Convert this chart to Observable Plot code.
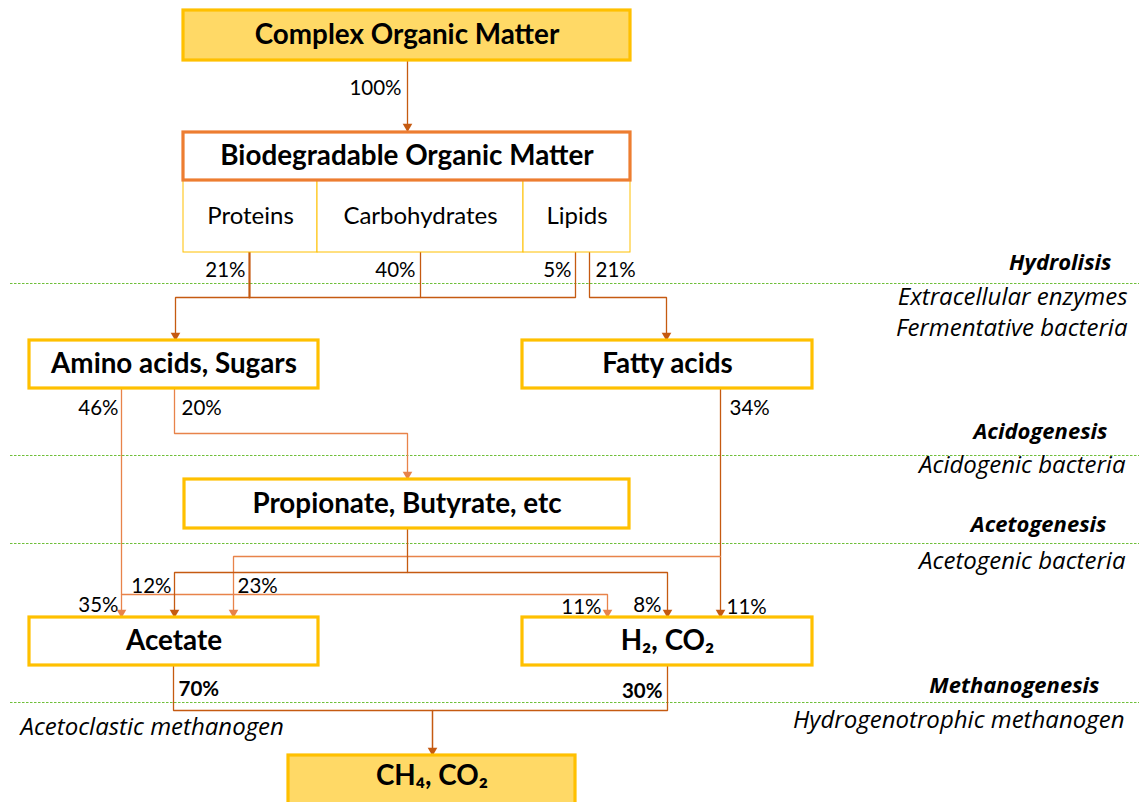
<!DOCTYPE html>
<html><head><meta charset="utf-8">
<script src="https://cdn.jsdelivr.net/npm/d3@7"></script>
<script src="https://cdn.jsdelivr.net/npm/@observablehq/plot@0.6"></script>
<style>html,body{margin:0;padding:0;background:#fff;overflow:hidden}</style>
</head><body><div id="chart"></div>
<script>
// ---------- content ----------
const nodeNames = ["Complex Organic Matter", "Biodegradable Organic Matter", "Amino acids, Sugars", "Fatty acids",
  "Propionate, Butyrate, etc", "Acetate", "H₂, CO₂", "CH₄, CO₂"];
const fractionNames = ["Proteins", "Carbohydrates", "Lipids"];
const flowLabels = ["100%", "21%", "40%", "5%", "21%", "46%", "20%", "34%", "12%", "23%", "35%", "11%", "8%", "11%", "70%", "30%"];
const stageNames = ["Hydrolisis", "Acidogenesis", "Acetogenesis", "Methanogenesis"];
const organismNames = ["Extracellular enzymes", "Fermentative bacteria", "Acidogenic bacteria", "Acetogenic bacteria",
  "Hydrogenotrophic methanogen", "Acetoclastic methanogen"];

// ---------- layout (diagram coordinates) ----------
const W = 1139, H = 802;
const nodeBox = [[183,10,630,60],[183,132,630,180],[29,340,318,388],[522,340,812,388],
  [184,479,629,528],[29,617,318,665],[522,617,812,665],[288,755,575,806]];
const nodeStyle = ["gold","orange","plain","plain","plain","plain","plain","gold"];
const fractionBox = [[183,180,317,252],[317,180,523,252],[523,180,630,252]];
const flowLabelPos = [[401,88,"end"],[245,270,"end"],[415,270,"end"],[571,270,"end"],[595,270,"start"],
  [118,408,"end"],[181,408,"start"],[729,408,"start"],[171,586,"end"],[237,586,"start"],[118,605,"end"],
  [601,607,"end"],[661,605,"end"],[726,607,"start"],[178,689,"start"],[662,691,"end"]];
const flowBold = [false,false,false,false,false,false,false,false,false,false,false,false,false,false,true,true];
const stageX = [1111, 1107, 1106, 1099];
const stageY = [262, 431, 524, 685];
const stageLineY = [283, 455, 543, 702];
const organismPos = [[1127,297,"end"],[1127,328,"end"],[1125,465,"end"],[1125,561,"end"],[1124,720,"end"],[20,727,"start"]];
const edgePaths = [
  [[407,60],[407,131]],
  [[249,252],[249,297]],
  [[420,252],[420,297]],
  [[575,252],[575,297],[175,297],[175,340]],
  [[589,252],[589,297],[666,297],[666,340]],
  [[121,388],[121,617]],
  [[174,388],[174,433],[407,433],[407,479]],
  [[121,594],[607,594],[607,617]],
  [[720,388],[720,617]],
  [[720,556],[233,556],[233,617]],
  [[407,528],[407,572],[174,572],[174,617]],
  [[407,572],[667,572],[667,617]],
  [[173,665],[173,710],[667,710],[667,665]],
  [[432,710],[432,755]]
];
const edgeArrow = [true,false,false,true,true,true,true,true,true,true,true,true,false,true];
const edgeTone = ["dark","dark","dark","dark","dark","light","light","light","dark","light","dark","dark","dark","dark"];
const edgeWidth = [1.3,2.2,1.3,1.3,1.3,1.3,1.3,1.3,1.3,1.3,1.3,1.3,1.3,1.5];

// ---------- styles ----------
const tone = {dark: "#C55A11", light: "#E8834A"};
const boxStroke = {gold: "#FFC000", orange: "#ED7D31", plain: "#FFC000"};
const boxFill = {gold: "#FFD966", orange: "#FFFFFF", plain: "#FFFFFF"};
const FONT = "Lato, 'Open Sans', sans-serif";
const IFONT = "'Open Sans', Lato, sans-serif";

// ---------- tables ----------
const nodes = nodeNames.map((name, i) => ({name, x1: nodeBox[i][0], y1: nodeBox[i][1], x2: nodeBox[i][2], y2: nodeBox[i][3],
  stroke: boxStroke[nodeStyle[i]], fill: boxFill[nodeStyle[i]], cx: (nodeBox[i][0]+nodeBox[i][2])/2,
  cy: (nodeBox[i][1]+Math.min(nodeBox[i][3], i === 7 ? 803 : nodeBox[i][3]))/2 + (i === 7 ? -3 : 0)}));
const fractions = fractionNames.map((name, i) => ({name, x1: fractionBox[i][0], y1: fractionBox[i][1], x2: fractionBox[i][2], y2: fractionBox[i][3],
  cx: (fractionBox[i][0]+fractionBox[i][2])/2, cy: (fractionBox[i][1]+fractionBox[i][3])/2}));
const flows = flowLabels.map((label, i) => ({label, x: flowLabelPos[i][0], y: flowLabelPos[i][1], anchor: flowLabelPos[i][2], bold: flowBold[i]}));
const stages = stageNames.map((name, i) => ({name, x: stageX[i], y: stageY[i], lineY: stageLineY[i]}));
const organisms = organismNames.map((name, i) => ({name, x: organismPos[i][0], y: organismPos[i][1], anchor: organismPos[i][2]}));
const edgeRows = edgePaths.flatMap((pts, i) => pts.map(([x, y]) => ({id: i, x, y, color: tone[edgeTone[i]], w: edgeWidth[i]})));
const heads = edgePaths.map((pts, i) => ({end: pts[pts.length - 1], color: tone[edgeTone[i]], on: edgeArrow[i]}))
  .filter(d => d.on).map(d => ({x: d.end[0], y: d.end[1] - 5, color: d.color}));

const widths = [...new Set(edgeWidth)];
const textCommon = {fontFamily: FONT, fill: "#000"};
const itext = {fontFamily: IFONT, fill: "#000", fontStyle: "italic"};

const chart = Plot.plot({
  width: W, height: H, margin: 0,
  x: {domain: [0, W], range: [0, W], axis: null},
  y: {domain: [0, H], range: [0, H], axis: null},
  color: {type: "identity"},
  style: {background: "#fff", overflow: "hidden"},
  marks: [
    // stage separators
    Plot.ruleY(stages, {y: "lineY", x1: 10, x2: W, stroke: "#6FBF3A", strokeWidth: 1.2, strokeDasharray: "2.5,1.5"}),
    // edges
    ...widths.map(w => Plot.line(edgeRows.filter(d => d.w === w), {x: "x", y: "y", z: "id", stroke: "color", strokeWidth: w, strokeLinejoin: "miter"})),
    Plot.dot(heads, {x: "x", y: "y", symbol: "triangle2", r: 4.6, rotate: 180, fill: "color", stroke: "none"}),
    // fraction boxes
    Plot.rect(fractions, {x1: "x1", x2: "x2", y1: "y1", y2: "y2", fill: "#fff", stroke: "#FFC000", strokeWidth: 1}),
    Plot.text(fractions, {x: "cx", y: "cy", text: "name", fontSize: 24, ...textCommon}),
    // node boxes
    Plot.rect(nodes, {x1: "x1", x2: "x2", y1: "y1", y2: "y2", fill: "fill", stroke: "stroke", strokeWidth: 3.2}),
    Plot.text(nodes, {x: "cx", y: "cy", text: "name", fontSize: 27.8, fontWeight: "bold", ...textCommon}),
    // percentages
    Plot.text(flows.filter(d => d.anchor === "end" && !d.bold), {x: "x", y: "y", text: "label", textAnchor: "end", fontSize: 20.5, ...textCommon}),
    Plot.text(flows.filter(d => d.anchor === "start" && !d.bold), {x: "x", y: "y", text: "label", textAnchor: "start", fontSize: 20.5, ...textCommon}),
    Plot.text(flows.filter(d => d.anchor === "end" && d.bold), {x: "x", y: "y", text: "label", textAnchor: "end", fontSize: 20.5, fontWeight: "bold", ...textCommon}),
    Plot.text(flows.filter(d => d.anchor === "start" && d.bold), {x: "x", y: "y", text: "label", textAnchor: "start", fontSize: 20.5, fontWeight: "bold", ...textCommon}),
    // stages & organisms
    Plot.text(stages, {x: "x", y: "y", text: "name", textAnchor: "end", fontSize: 22, fontWeight: "bold", ...itext}),
    Plot.text(organisms.filter(d => d.anchor === "end"), {x: "x", y: "y", text: "name", textAnchor: "end", fontSize: 24, ...itext}),
    Plot.text(organisms.filter(d => d.anchor === "start"), {x: "x", y: "y", text: "name", textAnchor: "start", fontSize: 24, ...itext})
  ]
});
document.getElementById("chart").append(chart);
</script>
</body></html>
